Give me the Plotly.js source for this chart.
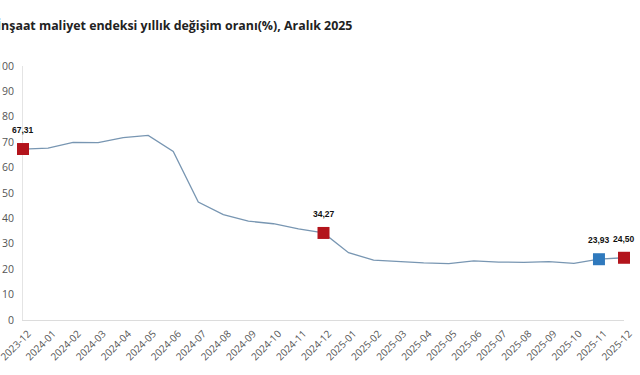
<!DOCTYPE html>
<html>
<head>
<meta charset="utf-8">
<script src="https://cdn.plot.ly/plotly-3.0.1.min.js"></script>
<style>html,body{margin:0;padding:0;background:#fff;}#chart{width:640px;height:375px;}</style>
</head>
<body>
<div id="chart"></div>
<script>
var months = ["2023-12","2024-01","2024-02","2024-03","2024-04","2024-05","2024-06","2024-07","2024-08","2024-09","2024-10","2024-11","2024-12","2025-01","2025-02","2025-03","2025-04","2025-05","2025-06","2025-07","2025-08","2025-09","2025-10","2025-11","2025-12"];
var rates = [67.31,67.7,69.9,69.8,71.8,72.7,66.4,46.4,41.5,38.9,37.9,35.9,34.27,26.5,23.6,22.9,22.5,22.2,23.3,22.8,22.7,23.0,22.3,23.93,24.50];
var highlightMonths = ["2023-12","2024-12","2025-12"];
var highlightValues = [67.31,34.27,24.50];
var latestMonth = ["2025-11"];
var latestValue = [23.93];
var yTicks = [0,10,20,30,40,50,60,70,80,90,100];

function fmt(v){ return v.toFixed(2).replace('.', ','); }

var traces = [
  {x: months, y: rates, type: 'scatter', mode: 'lines', line: {color: '#7896b2', width: 1.3}, hoverinfo: 'x+y', cliponaxis: false},
  {x: highlightMonths, y: highlightValues, type: 'scatter', mode: 'markers', marker: {symbol: 'square', size: 12, color: '#b3141c'}, cliponaxis: false},
  {x: latestMonth, y: latestValue, type: 'scatter', mode: 'markers', marker: {symbol: 'square', size: 12, color: '#2f79bd'}, cliponaxis: false}
];

var labelMonths = highlightMonths.concat(latestMonth);
var labelValues = highlightValues.concat(latestValue);
var annotations = labelMonths.map(function(m, i){
  return {x: m, y: labelValues[i], xref: 'x', yref: 'y', text: '<b>' + fmt(labelValues[i]) + '</b>', showarrow: false, yshift: 19,
    font: {family: 'Liberation Sans, Arial, sans-serif', size: 8.5, color: '#111'}};
});
annotations.push({xref: 'paper', yref: 'paper', x: -0.0465, y: 1, yshift: 41, xanchor: 'left', yanchor: 'middle', showarrow: false,
  text: '<b>İnşaat maliyet endeksi yıllık değişim oranı(%), Aralık 2025</b>',
  font: {family: 'Open Sans, sans-serif', size: 12.4, color: '#222'}});

var layout = {
  width: 640, height: 375,
  margin: {l: 23, r: 16, t: 66, b: 55},
  paper_bgcolor: '#fff', plot_bgcolor: '#fff',
  showlegend: false,
  separators: ',.',
  xaxis: {type: 'category', range: [0, months.length - 1], showgrid: false, showline: true, linecolor: '#dcdcdc', linewidth: 1,
    tickangle: -45, ticks: '', ticklabelstandoff: 3, ticklabelshift: 5, layer: 'below traces',
    tickfont: {family: 'Open Sans, sans-serif', size: 10, color: '#555'}, zeroline: false, fixedrange: true},
  yaxis: {range: [0, 100], tickvals: yTicks, showgrid: false, showline: true, linecolor: '#e4e4e4', linewidth: 1, ticks: '',
    layer: 'below traces', ticklabelstandoff: 6, tickfont: {family: 'Open Sans, sans-serif', size: 10.5, color: '#555'}, zeroline: false, fixedrange: true},
  annotations: annotations
};

Plotly.newPlot('chart', traces, layout, {displayModeBar: false, staticPlot: true});
</script>
</body>
</html>
